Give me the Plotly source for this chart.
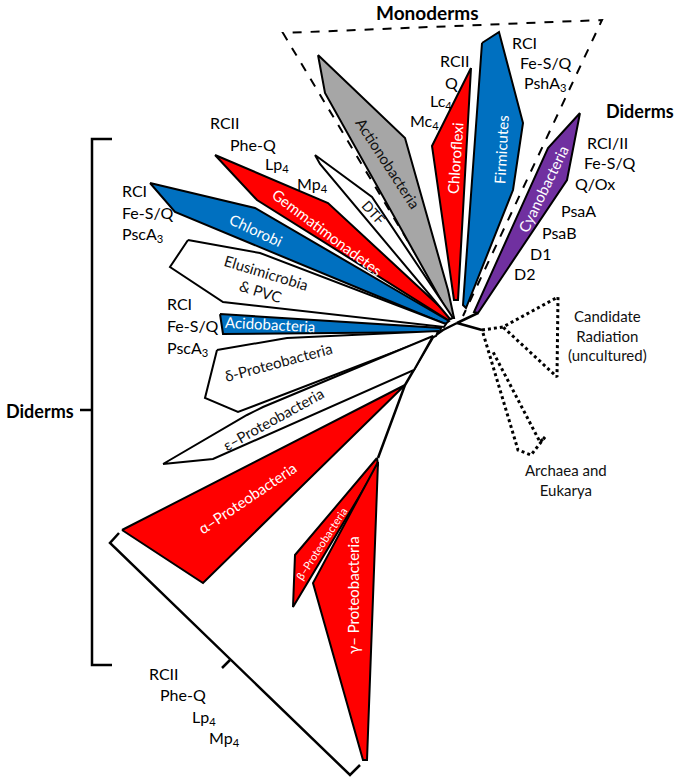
import plotly.graph_objects as go

# ---- clade polygons (pixel coordinates of the drawing canvas) ----
actinobacteria = [(318, 55), (405, 138), (448, 290), (454, 318), (451, 318), (325, 93)]
chloroflexi = [(471, 68), (458, 300), (454, 300), (432, 146)]
firmicutes = [(482, 43), (499, 32), (523, 123), (513, 190), (466, 308), (463, 305)]
cyanobacteria = [(580, 113), (567, 180), (478, 313), (474, 312), (548, 148)]
gemmatimonadetes = [(215, 155), (328, 203), (452, 318), (448, 320), (257, 200)]
dtf = [(315, 155), (372, 197), (453, 318), (450, 319), (320, 164)]
chlorobi = [(150, 183), (255, 208), (449, 321), (445, 324), (175, 212)]
elusimicrobia = [(188, 240), (260, 253), (446, 324), (444, 327), (223, 302), (170, 267)]
acidobacteria = [(220, 314), (441, 328), (440, 332), (223, 334)]
delta_proteo = [(217, 350), (287, 338), (438, 331), (436, 336), (238, 412), (205, 398)]
epsilon_proteo = [(163, 464), (247, 415), (263, 407), (433, 336), (414, 370), (213, 459)]
alpha_proteo = [(122, 530), (405, 385), (203, 583)]
beta_proteo = [(377, 458), (295, 555), (293, 607), (378, 465)]
gamma_proteo = [(378, 462), (313, 583), (363, 760), (367, 760)]

clade_polys = [
    (actinobacteria, "#A6A6A6"), (chloroflexi, "#FF0000"), (firmicutes, "#0070C0"),
    (cyanobacteria, "#7030A0"), (gemmatimonadetes, "#FF0000"), (dtf, "white"),
    (chlorobi, "#0070C0"), (elusimicrobia, "white"), (acidobacteria, "#0070C0"),
    (delta_proteo, "white"), (epsilon_proteo, "white"), (alpha_proteo, "#FF0000"),
    (beta_proteo, "#FF0000"), (gamma_proteo, "#FF0000"),
]

# ---- tree skeleton ----
stem_lines = [
    [(478, 313), (457, 323), (482, 330)],
    [(457, 323), (443, 330), (433, 337), (405, 385), (378, 458)],
]
monoderm_dash = [(454, 318), (283, 33), (602, 20), (463, 316)]
candidate_dots = [(482, 330), (503, 327), (558, 297), (557, 377), (503, 327)]
archaea_dots = [(483, 333), (518, 450), (531, 455), (545, 437), (540, 442), (492, 350)]

# ---- brackets ----
brace_left = [(112, 139), (92, 139), (92, 410), (80, 410), (92, 410), (92, 665), (112, 665)]
bracket_gamma = [(119, 533), (110, 543), (350, 775), (360, 765)]
bracket_tick = [(222, 668), (230, 660)]

# ---- labels ----
clade_labels = ["Actionobacteria", "Chloroflexi", "Firmicutes", "Cyanobacteria",
                "Gemmatimonadetes", "DTF", "Chlorobi", "Elusimicrobia<br>& PVC",
                "Acidobacteria", "δ-Proteobacteria", "ε–Proteobacteria",
                "α–Proteobacteria", "β–Proteobacteria", "γ– Proteobacteria"]
clade_label_xy = [(388, 163), (455, 158), (501, 150), (543, 189), (327, 232), (374, 212),
                  (256, 230), (263, 282), (270, 324), (278, 362), (273, 419),
                  (247, 498), (321, 543), (353, 595)]
clade_label_angle = [57, -86, -87, -64, 37, 48, 25, 17, 3, -15, -29, -34, -57, -90]
clade_label_color = ["#111", "white", "white", "white", "white", "#111", "white", "#111",
                     "white", "#111", "#111", "white", "white", "white"]
clade_label_size = [15, 15, 15, 15, 15, 14, 15, 15, 15, 15, 15, 15, 11, 15]

gene_labels = ["RCI", "Fe-S/Q", "PshA<sub>3</sub>",
               "RCII", "Q", "Lc<sub>4</sub>", "Mc<sub>4</sub>",
               "RCI/II", "Fe-S/Q", "Q/Ox", "PsaA", "PsaB", "D1", "D2",
               "RCII", "Phe-Q", "Lp<sub>4</sub>", "Mp<sub>4</sub>",
               "RCI", "Fe-S/Q", "PscA<sub>3</sub>",
               "RCI", "Fe-S/Q", "PscA<sub>3</sub>",
               "RCII", "Phe-Q", "Lp<sub>4</sub>", "Mp<sub>4</sub>"]
# left edge x, vertical centre y
gene_label_xy = [(510, 42), (518, 62), (522, 83),
                 (438, 60), (443, 82), (428, 101), (408, 121),
                 (585, 142), (582, 162), (573, 183), (559, 210), (540, 232), (528, 253), (512, 273),
                 (208, 122), (228, 144), (263, 164), (295, 184),
                 (120, 190), (120, 212), (120, 234),
                 (165, 303), (165, 325), (165, 348),
                 (147, 673), (158, 694), (190, 717), (207, 738)]

group_labels = ["Monoderms", "Diderms", "Diderms"]
group_label_xy = [(427, 12), (640, 111), (40, 411)]
group_label_size = [19, 18, 18]

note_labels = ["Candidate<br>Radiation<br>(uncultured)", "Archaea and<br>Eukarya"]
note_label_xy = [(607, 335), (566, 480)]

FONT = "Lato, 'Open Sans', sans-serif"

fig = go.Figure()


def add_path(pts, color="black", width=2, dash="solid", fill=None):
    xs = [p[0] for p in pts]
    ys = [p[1] for p in pts]
    if fill is not None:
        xs = xs + [xs[0]]
        ys = ys + [ys[0]]
    fig.add_trace(go.Scatter(
        x=xs, y=ys, mode="lines",
        line=dict(color=color, width=width, dash=dash),
        fill="toself" if fill is not None else None,
        fillcolor=fill, hoverinfo="skip", showlegend=False))


add_path(monoderm_dash, width=2, dash="dash")
for pts in stem_lines:
    add_path(pts, width=2.5)
for pts, col in clade_polys:
    add_path(pts, width=2, fill=col)
add_path(candidate_dots, width=3, dash="dot")
add_path(archaea_dots, width=3, dash="dot")
add_path(brace_left, width=2.5)
add_path(bracket_gamma, width=2.5)
add_path(bracket_tick, width=2.5)

annotations = []
for txt, (x, y), ang, col, sz in zip(clade_labels, clade_label_xy, clade_label_angle,
                                     clade_label_color, clade_label_size):
    annotations.append(dict(x=x, y=y, text=txt, textangle=ang, showarrow=False,
                            font=dict(family=FONT, size=sz, color=col),
                            xanchor="center", yanchor="middle"))
for txt, (x, y) in zip(gene_labels, gene_label_xy):
    annotations.append(dict(x=x, y=y, text=txt, showarrow=False,
                            font=dict(family=FONT, size=16, color="#000"),
                            xanchor="left", yanchor="middle"))
for txt, (x, y), sz in zip(group_labels, group_label_xy, group_label_size):
    annotations.append(dict(x=x, y=y, text="<b>" + txt + "</b>", showarrow=False,
                            font=dict(family=FONT, size=sz, color="#000"),
                            xanchor="center", yanchor="middle"))
for txt, (x, y) in zip(note_labels, note_label_xy):
    annotations.append(dict(x=x, y=y, text=txt, showarrow=False,
                            font=dict(family=FONT, size=15, color="#111"),
                            xanchor="center", yanchor="middle"))

fig.update_layout(
    width=697, height=777,
    margin=dict(l=0, r=0, t=0, b=0),
    paper_bgcolor="white", plot_bgcolor="white",
    xaxis=dict(range=[0, 697], visible=False, fixedrange=True),
    yaxis=dict(range=[777, 0], visible=False, fixedrange=True),
    annotations=annotations,
    showlegend=False,
)

fig.write_html("out.html", config={"displayModeBar": False},
               post_script="document.body.style.margin='0px';")
